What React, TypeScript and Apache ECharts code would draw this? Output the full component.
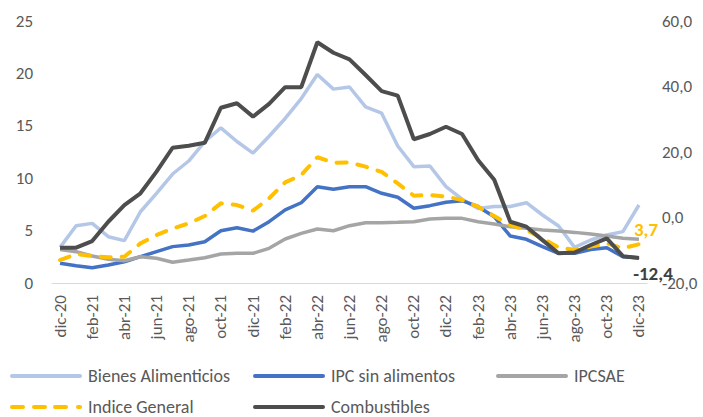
import React, { useEffect, useRef } from "react";
import * as echarts from "echarts";

const categories = [
  "dic-20", "ene-21", "feb-21", "mar-21", "abr-21", "may-21", "jun-21", "jul-21", "ago-21", "sep-21", "oct-21", "nov-21",
  "dic-21", "ene-22", "feb-22", "mar-22", "abr-22", "may-22", "jun-22", "jul-22", "ago-22", "sep-22", "oct-22", "nov-22",
  "dic-22", "ene-23", "feb-23", "mar-23", "abr-23", "may-23", "jun-23", "jul-23", "ago-23", "sep-23", "oct-23", "nov-23",
  "dic-23",
];

const bienesAlimenticios = [
  3.4, 5.47, 5.69, 4.42, 4.04, 6.8, 8.56, 10.4, 11.64, 13.5, 14.8, 13.5,
  12.4, 14.0, 15.7, 17.6, 19.9, 18.5, 18.7, 16.8, 16.2, 13.07, 11.1, 11.16,
  9.2, 8.0, 7.1, 7.3, 7.3, 7.66, 6.49, 5.44, 3.4, 4.1, 4.58, 4.9,
  7.44,
];

const ipcSinAlimentos = [
  1.88, 1.65, 1.46, 1.72, 2.03, 2.51, 2.99, 3.47, 3.63, 3.94, 4.99, 5.28,
  4.95, 5.85, 6.97, 7.66, 9.19, 8.94, 9.19, 9.19, 8.56, 8.18, 7.13, 7.38,
  7.7, 7.85, 7.28, 6.33, 4.48, 4.17, 3.47, 2.83, 2.83, 3.2, 3.37, 2.5,
  2.4,
];

const ipcsae = [
  3.2, 2.99, 2.58, 2.26, 2.13, 2.51, 2.36, 1.98, 2.19, 2.41, 2.77, 2.83,
  2.83, 3.31, 4.2, 4.74, 5.15, 4.99, 5.47, 5.75, 5.75, 5.79, 5.85, 6.1,
  6.17, 6.17, 5.85, 5.63, 5.37, 5.22, 5.06, 4.96, 4.83, 4.68, 4.48, 4.26,
  4.17,
];

const indiceGeneral = [
  2.19, 2.77, 2.58, 2.45, 2.51, 3.78, 4.58, 5.2, 5.69, 6.39, 7.6, 7.44,
  6.9, 8.08, 9.6, 10.3, 12.0, 11.48, 11.5, 11.1, 10.6, 9.5, 8.33, 8.4,
  8.24, 7.92, 7.28, 6.39, 5.53, 5.06, 4.26, 3.4, 3.15, 3.47, 3.78, 3.31,
  3.7,
];

const combustibles = [
  -9.2, -9.2, -7.2, -1.3, 3.8, 7.4, 14.0, 21.3, 21.9, 22.8, 33.5, 34.9,
  30.8, 34.7, 39.8, 39.8, 53.5, 50.3, 48.3, 43.5, 38.6, 37.2, 23.9, 25.5,
  27.7, 25.5, 17.5, 11.5, -1.3, -2.8, -6.9, -10.9, -10.7, -8.4, -6.4, -11.8,
  -12.4,
];

const leftTicks = { min: 0, max: 25, interval: 5 };
const rightTicks = { min: -20, max: 60, interval: 20 };

const FONT = "Carlito, Lato, sans-serif";
const TEXT = "#595959";

const seriesNames = ["Bienes Alimenticios", "IPC sin alimentos", "IPCSAE", "Indice General", "Combustibles"];
const colors = ["#B4C7E7", "#4472C4", "#A5A5A5", "#FFC000", "#4D4D4D"];

const fmtComma = (v: number) => v.toFixed(1).replace(".", ",");

const SOLID_ICON = "path://M2,0 L70,0 A2,2 0 0 1 70,4 L2,4 A2,2 0 0 1 2,0 Z";
const DASH_ICON =
  "path://M2,0 L13,0 A2,2 0 0 1 13,4 L2,4 A2,2 0 0 1 2,0 Z " +
  "M24,0 L35,0 A2,2 0 0 1 35,4 L24,4 A2,2 0 0 1 24,0 Z " +
  "M45,0 L56,0 A2,2 0 0 1 56,4 L45,4 A2,2 0 0 1 45,0 Z " +
  "M68,0 L70,0 A2,2 0 0 1 70,4 L68,4 A2,2 0 0 1 68,0 Z";

export default function App() {
  const ref = useRef<HTMLDivElement>(null);
  useEffect(() => {
    if (!ref.current) return;
    const chart = echarts.init(ref.current, undefined, { renderer: "svg" });
    const lastIdx = categories.length - 1;

    const legendPos = [
      { left: 10, top: 367 },
      { left: 253, top: 367 },
      { left: 496, top: 367 },
      { left: 10, top: 398 },
      { left: 253, top: 398 },
    ];

    const lastLabel = (color: string, position: string, offset: number[]) => ({
      show: true,
      position,
      offset,
      formatter: (p: any) => fmtComma(p.value),
      color,
      fontFamily: FONT,
      fontWeight: "bold",
      fontSize: 19,
    });

    chart.setOption({
      animation: false,
      backgroundColor: "#ffffff",
      textStyle: { fontFamily: FONT },
      grid: { left: 52, right: 56, top: 21, bottom: 134, containLabel: false },
      legend: seriesNames.map((n, i) => ({
        data: [n],
        left: legendPos[i].left,
        top: legendPos[i].top,
        icon: i === 3 ? DASH_ICON : SOLID_ICON,
        itemWidth: 72,
        itemHeight: 4,
        itemStyle: { borderWidth: 0 },
        padding: 0,
        textStyle: { fontFamily: FONT, fontSize: 18, lineHeight: 18, color: TEXT, padding: [0, 0, 0, 1] },
        selectedMode: false,
      })),
      xAxis: {
        type: "category",
        data: categories,
        boundaryGap: true,
        axisLine: { lineStyle: { color: "#D9D9D9", width: 1 } },
        axisTick: { interval: 1, length: 4, lineStyle: { color: "#D9D9D9" } },
        axisLabel: {
          interval: 1,
          rotate: 90,
          margin: 12,
          fontFamily: FONT,
          fontSize: 17,
          color: TEXT,
        },
        splitLine: { show: false },
      },
      yAxis: [
        {
          type: "value",
          ...leftTicks,
          axisLine: { show: false },
          axisTick: { show: false },
          splitLine: { show: false },
          axisLabel: { margin: 19, fontFamily: FONT, fontSize: 17, color: TEXT },
        },
        {
          type: "value",
          ...rightTicks,
          position: "right",
          axisLine: { show: false },
          axisTick: { show: false },
          splitLine: { show: false },
          axisLabel: {
            margin: 15,
            fontFamily: FONT,
            fontSize: 17,
            color: TEXT,
            formatter: (v: number) => fmtComma(v),
          },
        },
      ],
      series: [
        {
          name: seriesNames[0],
          type: "line",
          data: bienesAlimenticios,
          yAxisIndex: 0,
          symbol: "none",
          color: colors[0],
          lineStyle: { width: 3.5, color: colors[0] },
        },
        {
          name: seriesNames[1],
          type: "line",
          data: ipcSinAlimentos,
          yAxisIndex: 0,
          symbol: "none",
          color: colors[1],
          lineStyle: { width: 3.5, color: colors[1] },
        },
        {
          name: seriesNames[2],
          type: "line",
          data: ipcsae,
          yAxisIndex: 0,
          symbol: "none",
          color: colors[2],
          lineStyle: { width: 3.5, color: colors[2] },
        },
        {
          name: seriesNames[3],
          type: "line",
          data: indiceGeneral.map((v, i) =>
            i === lastIdx
              ? { value: v, symbol: "circle", symbolSize: 1, label: lastLabel("#FFC000", "top", [7, 0]) }
              : v
          ),
          yAxisIndex: 0,
          symbol: "none",
          showAllSymbol: true,
          color: colors[3],
          lineStyle: { width: 4, color: colors[3], type: [10, 11], cap: "round" },
        },
        {
          name: seriesNames[4],
          type: "line",
          data: combustibles.map((v, i) =>
            i === lastIdx
              ? { value: v, symbol: "circle", symbolSize: 1, label: lastLabel("#404040", "bottom", [14, 0]) }
              : v
          ),
          yAxisIndex: 1,
          symbol: "none",
          showAllSymbol: true,
          color: colors[4],
          lineStyle: { width: 4, color: colors[4] },
        },
      ],
    });
    return () => chart.dispose();
  }, []);

  return (
    <div
      ref={ref}
      style={{ position: "fixed", left: 0, top: 0, width: 703, height: 417, background: "#fff" }}
    />
  );
}
